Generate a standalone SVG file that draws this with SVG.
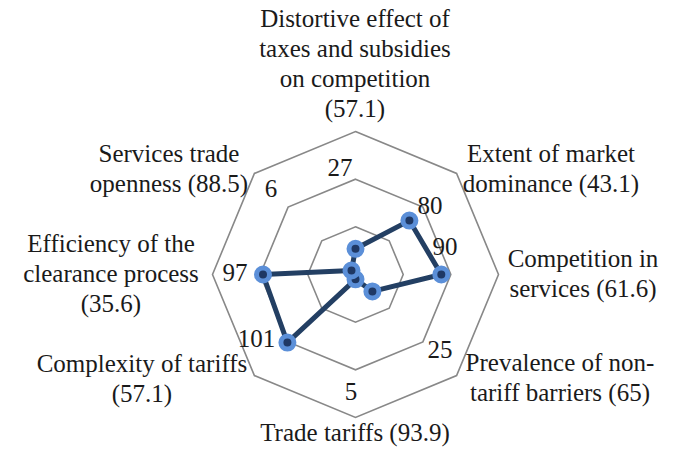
<svg xmlns="http://www.w3.org/2000/svg" width="675" height="455" viewBox="0 0 675 455">
<style>
text{font-size:25px;fill:#1a1a1a;text-anchor:middle}
.grid{fill:none;stroke:#888;stroke-width:1.6}
.series{fill:none;stroke:#233f63;stroke-width:5;stroke-linejoin:round}
.mk{fill:#1f3864;stroke:#5b8fd8;stroke-width:5}
</style>
<rect width="675" height="455" fill="#fff"/>
<g id="grid">
<polygon class="grid" points="355.5,131.5 456.6,173.4 498.5,274.5 456.6,375.6 355.5,417.5 254.4,375.6 212.5,274.5 254.4,173.4"/>
<polygon class="grid" points="355.5,179.2 422.9,207.1 450.8,274.5 422.9,341.9 355.5,369.8 288.1,341.9 260.2,274.5 288.1,207.1"/>
<polygon class="grid" points="355.5,226.8 389.2,240.8 403.2,274.5 389.2,308.2 355.5,322.2 321.8,308.2 307.8,274.5 321.8,240.8"/>
</g>
<g id="connectors">
<polygon class="series" points="355.5,248.8 409.4,220.6 441.3,274.5 372.4,291.4 355.5,279.3 287.4,342.6 263,274.5 351.5,270.5"/>
</g>
<g id="nodes" font-family="'Liberation Serif', 'DejaVu Serif', serif">
<g id="node-distortive">
<text x="355" y="27">Distortive effect of</text>
<text x="355" y="57">taxes and subsidies</text>
<text x="355" y="87">on competition</text>
<text x="355" y="117">(57.1)</text>
<circle class="mk" cx="355.5" cy="248.8" r="6.5"/>
<text x="340" y="176">27</text>
</g>
<g id="node-market">
<text x="551" y="162">Extent of market</text>
<text x="551" y="192">dominance (43.1)</text>
<circle class="mk" cx="409.4" cy="220.6" r="6.5"/>
<text x="430" y="214">80</text>
</g>
<g id="node-competition">
<text x="583" y="267">Competition in</text>
<text x="583" y="297">services (61.6)</text>
<circle class="mk" cx="441.3" cy="274.5" r="6.5"/>
<text x="445" y="255">90</text>
</g>
<g id="node-prevalence">
<text x="560" y="371">Prevalence of non-</text>
<text x="560" y="401">tariff barriers (65)</text>
<circle class="mk" cx="372.4" cy="291.4" r="6.5"/>
<text x="440" y="358">25</text>
</g>
<g id="node-trade-tariffs">
<text x="355" y="441">Trade tariffs (93.9)</text>
<circle class="mk" cx="355.5" cy="279.3" r="6.5"/>
<text x="351" y="400">5</text>
</g>
<g id="node-complexity">
<text x="142" y="372">Complexity of tariffs</text>
<text x="142" y="402">(57.1)</text>
<circle class="mk" cx="287.4" cy="342.6" r="6.5"/>
<text x="256.5" y="347">101</text>
</g>
<g id="node-clearance">
<text x="111" y="252">Efficiency of the</text>
<text x="111" y="282">clearance process</text>
<text x="111" y="312">(35.6)</text>
<circle class="mk" cx="263" cy="274.5" r="6.5"/>
<text x="235" y="281">97</text>
</g>
<g id="node-services">
<text x="169" y="162">Services trade</text>
<text x="169" y="192">openness (88.5)</text>
<circle class="mk" cx="351.5" cy="270.5" r="6.5"/>
<text x="271" y="197">6</text>
</g>
</g>
</svg>
